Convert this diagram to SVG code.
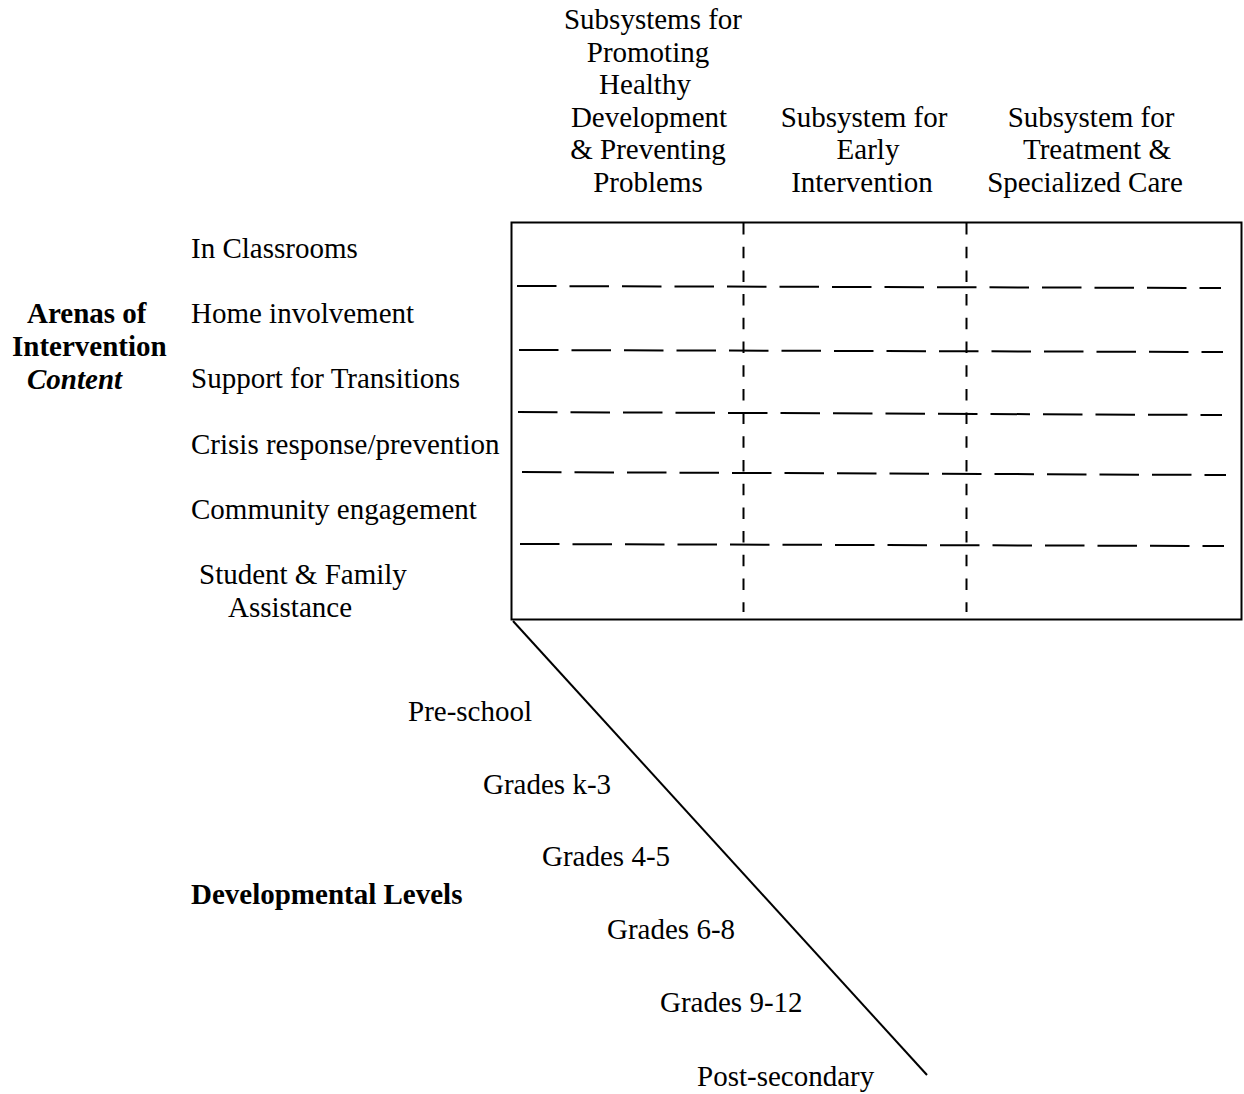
<svg xmlns="http://www.w3.org/2000/svg" width="1244" height="1094" viewBox="0 0 1244 1094">
<style>
text{font-family:"Liberation Serif","Times New Roman",serif;font-size:29px;fill:#000}
.b{font-weight:bold}
.bi{font-weight:bold;font-style:italic}
.m{text-anchor:middle}
.hd{stroke:#000;stroke-width:2;stroke-dasharray:39.5 13;fill:none}
.vd{stroke:#000;stroke-width:2;stroke-dasharray:11.5 12.2;fill:none}
</style>
<rect x="0" y="0" width="1244" height="1094" fill="#fff"/>
<g id="grid">
<rect x="511.5" y="222.5" width="730" height="397" fill="none" stroke="#000" stroke-width="2"/>
<line class="vd" x1="743.5" y1="223" x2="743.5" y2="612"/>
<line class="vd" x1="966.5" y1="223" x2="966.5" y2="612"/>
</g>
<g id="connectors">
<line class="hd" x1="517" y1="286" x2="1221" y2="288"/>
<line class="hd" x1="519" y1="350" x2="1223" y2="352"/>
<line class="hd" x1="518" y1="412" x2="1222" y2="415"/>
<line class="hd" x1="522" y1="472" x2="1226" y2="475"/>
<line class="hd" x1="520" y1="544" x2="1224" y2="546"/>
<line x1="513" y1="621" x2="927" y2="1075" stroke="#000" stroke-width="2"/>
</g>
<g id="header1">
<text class="m" x="653" y="29">Subsystems for</text>
<text class="m" x="648" y="61.6">Promoting</text>
<text class="m" x="645" y="94.2">Healthy</text>
<text class="m" x="649" y="126.8">Development</text>
<text class="m" x="648" y="159.4">&amp; Preventing</text>
<text class="m" x="648" y="192">Problems</text>
</g>
<g id="header2">
<text class="m" x="864" y="126.8">Subsystem for</text>
<text class="m" x="868" y="159.4">Early</text>
<text class="m" x="862" y="192">Intervention</text>
</g>
<g id="header3">
<text class="m" x="1091" y="126.8">Subsystem for</text>
<text class="m" x="1097" y="159.4">Treatment &amp;</text>
<text class="m" x="1085" y="192">Specialized Care</text>
</g>
<g id="arenas">
<text class="b" x="27" y="323">Arenas of</text>
<text class="b" x="12" y="356">Intervention</text>
<text class="bi" x="27" y="389">Content</text>
</g>
<g id="rows">
<text x="191" y="258">In Classrooms</text>
<text x="191" y="323">Home involvement</text>
<text x="191" y="388">Support for Transitions</text>
<text x="191" y="454">Crisis response/prevention</text>
<text x="191" y="519">Community engagement</text>
<text x="199" y="584">Student &amp; Family</text>
<text x="228" y="617">Assistance</text>
</g>
<g id="devlevels">
<text class="b" x="191" y="904">Developmental Levels</text>
</g>
<g id="levels">
<text x="408" y="721">Pre-school</text>
<text x="483" y="794">Grades k-3</text>
<text x="542" y="866">Grades 4-5</text>
<text x="607" y="939">Grades 6-8</text>
<text x="660" y="1012">Grades 9-12</text>
<text x="697" y="1086">Post-secondary</text>
</g>
</svg>
